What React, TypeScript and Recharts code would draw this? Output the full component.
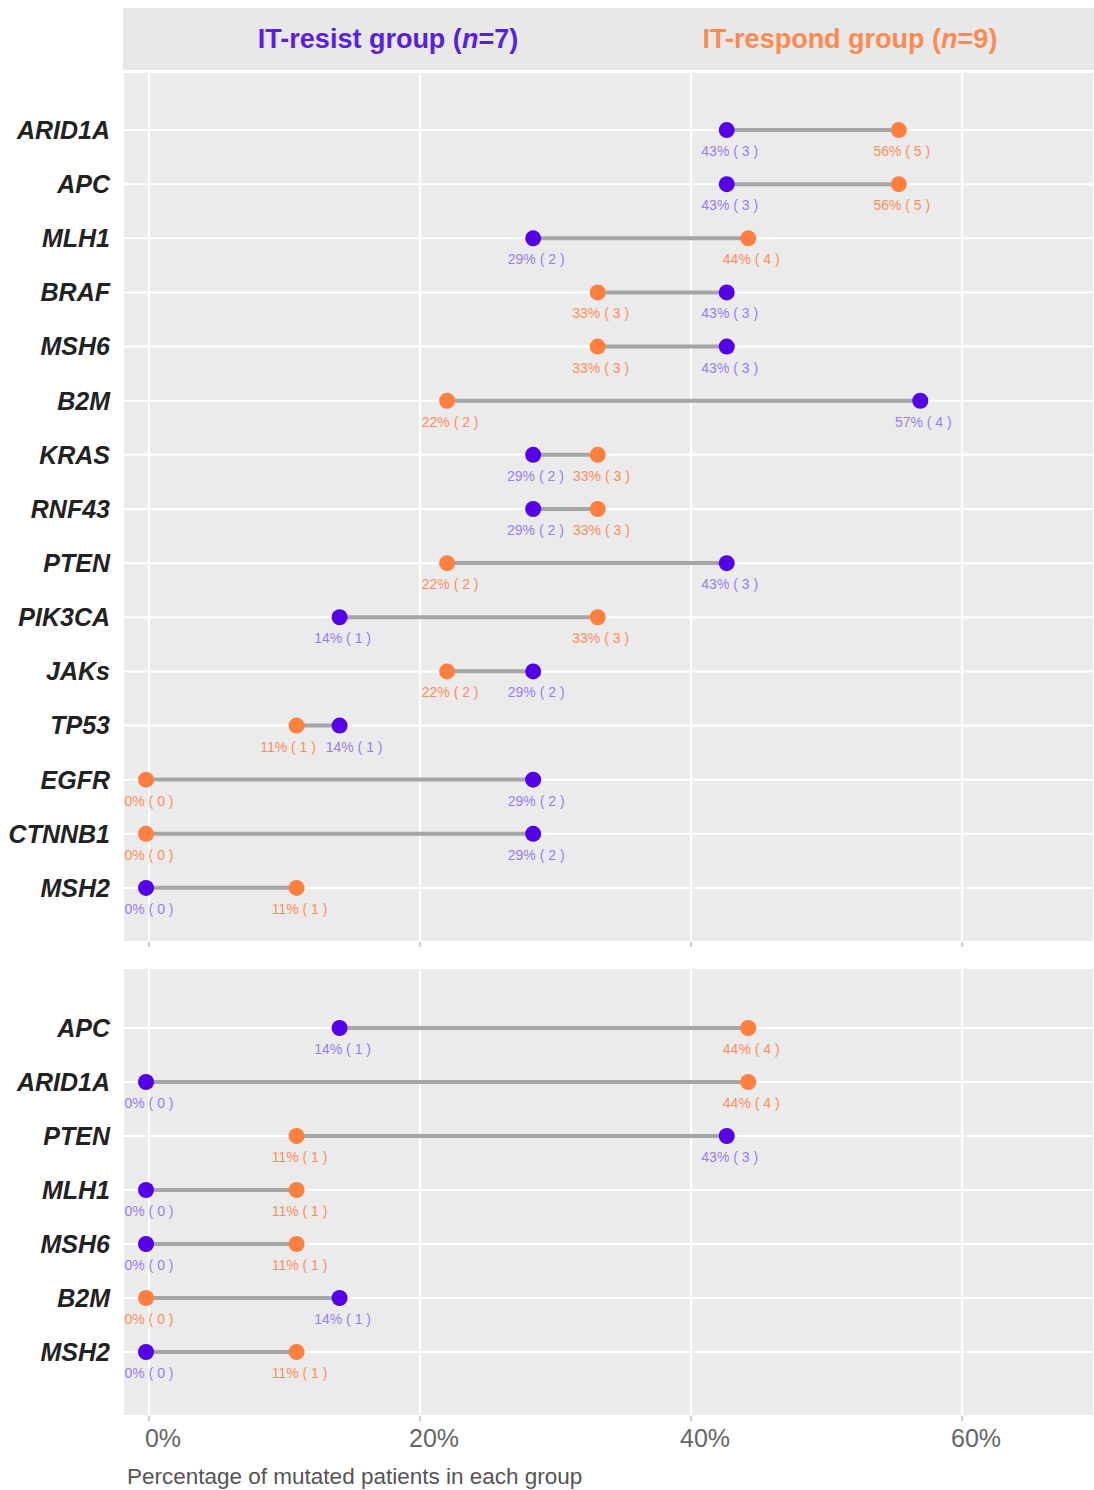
import React from 'react';
import { ComposedChart, Bar, Line, XAxis, YAxis, CartesianGrid, LabelList } from 'recharts';

const RESIST_N = 7;
const RESPOND_N = 9;

// upper panel, top to bottom
const topGenes = ['ARID1A', 'APC', 'MLH1', 'BRAF', 'MSH6', 'B2M', 'KRAS', 'RNF43', 'PTEN', 'PIK3CA', 'JAKs', 'TP53', 'EGFR', 'CTNNB1', 'MSH2'];
const topResist = [3, 3, 2, 3, 3, 4, 2, 2, 3, 1, 2, 1, 2, 2, 0];
const topRespond = [5, 5, 4, 3, 3, 2, 3, 3, 2, 3, 2, 1, 0, 0, 1];

// lower panel, top to bottom
const bottomGenes = ['APC', 'ARID1A', 'PTEN', 'MLH1', 'MSH6', 'B2M', 'MSH2'];
const bottomResist = [1, 0, 3, 0, 0, 1, 0];
const bottomRespond = [4, 4, 1, 1, 1, 0, 1];

const xTicks = [0, 20, 40, 60];
const xTickLabels = ['0%', '20%', '40%', '60%'];
const X_DOMAIN = [-1.92, 69.74];
const PLOT_WIDTH = 971;

const FONT = '"Liberation Sans", Arial, sans-serif';
const PURPLE = '#5500e6';
const ORANGE = '#ff7f3f';
const PURPLE_LABEL = '#9a7cf2';
const ORANGE_LABEL = '#ff8d5c';

const buildRows = (genes: string[], resist: number[], respond: number[]) =>
  genes.map((gene, i) => {
    const r = (resist[i] / RESIST_N) * 100;
    const s = (respond[i] / RESPOND_N) * 100;
    return {
      gene,
      resist: r,
      respond: s,
      range: [Math.min(r, s), Math.max(r, s)],
      resistLabel: `${Math.round(r)}% ( ${resist[i]} )`,
      respondLabel: `${Math.round(s)}% ( ${respond[i]} )`,
    };
  });

const topRows = buildRows(topGenes, topResist, topRespond);
const bottomRows = buildRows(bottomGenes, bottomResist, bottomRespond);

// push two labels of the same row apart when they would collide (like ggrepel)
const labelShift = (row: any, key: 'resist' | 'respond') => {
  const pxPerUnit = PLOT_WIDTH / (X_DOMAIN[1] - X_DOMAIN[0]);
  const other = key === 'resist' ? row.respond : row.resist;
  const gap = Math.abs(row[key] - other) * pxPerUnit;
  const need = 66;
  if (gap >= need) return 0;
  const dir = row[key] < other ? -1 : 1;
  return (dir * (need - gap)) / 2;
};

const makeDot = (color: string) => (props: any) => {
  if (props.cx == null || props.cy == null) return <g key={props.index} />;
  return <circle key={`d-${props.index}`} cx={props.cx - 3} cy={props.cy} r={8} fill={color} />;
};

const makeLabel = (rows: any[], key: 'resist' | 'respond', color: string) => (props: any) => {
  const x = props.x ?? props.viewBox?.x;
  const y = props.y ?? props.viewBox?.y;
  if (x == null || y == null) return null;
  const row = rows[props.index];
  const dx = row ? labelShift(row, key) : 0;
  return (
    <text x={x + dx} y={y + 26} textAnchor="middle" fontSize={14} fill={color} fontFamily={FONT}>
      {props.value}
    </text>
  );
};

const NoTick = () => <g />;

const BottomTick = (props: any) => {
  const { x, y, payload } = props;
  const idx = xTicks.indexOf(payload.value);
  return (
    <text x={x + 14} y={y + 24} textAnchor="middle" fontSize={25} fill="#666666" fontFamily={FONT}>
      {xTickLabels[idx]}
    </text>
  );
};

interface PanelProps {
  rows: any[];
  height: number;
  marginTop: number;
  axisHeight: number;
  padTop: number;
  padBottom: number;
  labels: boolean;
}

const Panel: React.FC<PanelProps> = ({ rows, height, marginTop, axisHeight, padTop, padBottom, labels }) => (
  <ComposedChart
    layout="vertical"
    width={1094}
    height={height}
    data={rows}
    margin={{ top: marginTop, right: 0, bottom: 0, left: 0 }}
  >
    <CartesianGrid fill="#ebebeb" stroke="#ffffff" strokeWidth={2} />
    <XAxis
      type="number"
      domain={X_DOMAIN}
      ticks={xTicks}
      allowDataOverflow
      axisLine={false}
      tickLine={{ stroke: '#9a9a9a' }}
      tickSize={5}
      height={axisHeight}
      tick={labels ? <BottomTick /> : <NoTick />}
    />
    <YAxis
      type="category"
      dataKey="gene"
      width={123}
      axisLine={false}
      tickLine={false}
      tickSize={0}
      tickMargin={13}
      interval={0}
      padding={{ top: padTop, bottom: padBottom }}
      tick={{ fontSize: 25, fill: '#222222', fontStyle: 'italic', fontWeight: 'bold', fontFamily: FONT }}
    />
    <Bar dataKey="range" barSize={4} fill="#a6a6a6" isAnimationActive={false} />
    <Line dataKey="resist" stroke="none" dot={makeDot(PURPLE)} activeDot={false} isAnimationActive={false}>
      <LabelList dataKey="resistLabel" content={makeLabel(rows, 'resist', PURPLE_LABEL)} />
    </Line>
    <Line dataKey="respond" stroke="none" dot={makeDot(ORANGE)} activeDot={false} isAnimationActive={false}>
      <LabelList dataKey="respondLabel" content={makeLabel(rows, 'respond', ORANGE_LABEL)} />
    </Line>
  </ComposedChart>
);

export default function App() {
  return (
    <div style={{ position: 'absolute', left: 0, top: 0, width: 1094, height: 1490, background: '#ffffff', fontFamily: FONT }}>
      <div style={{ position: 'absolute', left: 0, top: 0 }}>
        <Panel rows={topRows} height={948} marginTop={72} axisHeight={6} padTop={31} padBottom={27} labels={false} />
      </div>
      <div style={{ position: 'absolute', left: 0, top: 948 }}>
        <Panel rows={bottomRows} height={542} marginTop={20} axisHeight={74} padTop={33} padBottom={37} labels />
      </div>
      <div style={{ position: 'absolute', left: 123, top: 8, width: 971, height: 62, background: '#e8e8e8' }} />
      <div style={{ position: 'absolute', left: 188, top: 23, width: 400, textAlign: 'center', fontSize: 27, fontWeight: 'bold', lineHeight: '32px', color: '#5a1fe0', whiteSpace: 'nowrap' }}>
        IT-resist group (<i>n</i>=7)
      </div>
      <div style={{ position: 'absolute', left: 650, top: 23, width: 400, textAlign: 'center', fontSize: 27, fontWeight: 'bold', lineHeight: '32px', color: '#ff8a4f', whiteSpace: 'nowrap' }}>
        IT-respond group (<i>n</i>=9)
      </div>
      <div style={{ position: 'absolute', left: 127, top: 1464, fontSize: 22.5, lineHeight: '26px', color: '#555555', whiteSpace: 'nowrap' }}>
        Percentage of mutated patients in each group
      </div>
    </div>
  );
}
